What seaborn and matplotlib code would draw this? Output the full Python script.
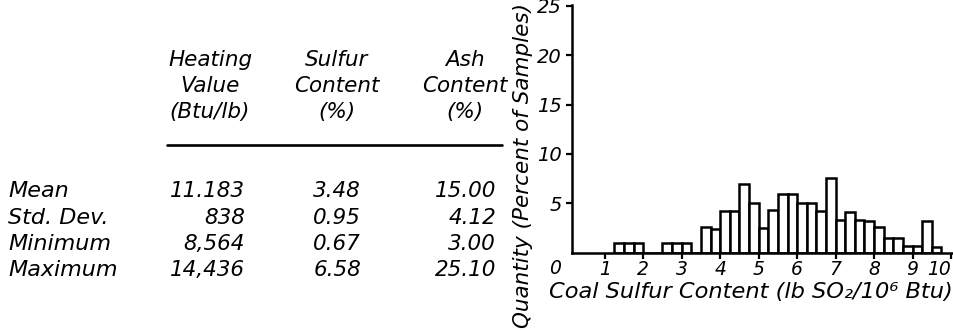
import numpy as np
import pandas as pd
import matplotlib
matplotlib.use("Agg")
import matplotlib.pyplot as plt
from matplotlib.lines import Line2D
import seaborn as sns

# Summary statistics of the coal samples
stat_names = ["Mean", "Std. Dev.", "Minimum", "Maximum"]
heating_value = ["11.183", "838", "8,564", "14,436"]
sulfur_content = ["3.48", "0.95", "0.67", "6.58"]
ash_content = ["15.00", "4.12", "3.00", "25.10"]
heating_head = ["Heating", "Value", "(Btu/lb)"]
sulfur_head = ["Sulfur", "Content", "(%)"]
ash_head = ["Ash", "Content", "(%)"]

# Sulfur distribution: left edge of each 0.25-wide bin and its share of samples (%)
bin_left = [1.25, 1.50, 1.75,
            2.50, 2.75, 3.00,
            3.50, 3.75,
            4.00, 4.25, 4.50, 4.75,
            5.00, 5.25, 5.50, 5.75,
            6.00, 6.25, 6.50, 6.75,
            7.00, 7.25, 7.50, 7.75,
            8.00, 8.25, 8.50, 8.75,
            9.00, 9.25, 9.50]
percent = [1.0, 1.0, 1.0,
           1.0, 1.0, 1.0,
           2.6, 2.4,
           4.25, 4.25, 6.95, 5.0,
           2.5, 4.3, 5.9, 5.9,
           5.0, 5.0, 4.25, 7.6,
           3.3, 4.15, 3.3, 3.2,
           2.55, 1.5, 1.5, 0.7,
           0.7, 3.2, 0.6]
bin_width = 0.25
x_ticks = [1, 2, 3, 4, 5, 6, 7, 8, 9, 10]
y_ticks = [5, 10, 15, 20, 25]

sns.set_style("ticks")
plt.rcParams["font.family"] = ["DejaVu Sans"]
plt.rcParams["font.style"] = "italic"
plt.rcParams["text.color"] = "black"

W, H = 954, 332
fig = plt.figure(figsize=(W / 100, H / 100), dpi=100)
fig.patch.set_facecolor("white")


def fx(px):
    return px / W


def fy(py):
    return 1 - py / H


# ---- statistics table -------------------------------------------------
tsize = 15.5
head_x = [210, 337, 465]
head_base = [66.5, 92, 118]
for cx, head in zip(head_x, [heating_head, sulfur_head, ash_head]):
    for by, line in zip(head_base, head):
        fig.text(fx(cx), fy(by), line, ha="center", va="baseline", fontsize=tsize)

fig.add_artist(Line2D([fx(167), fx(502)], [fy(145), fy(145)],
                      color="black", lw=1.9, transform=fig.transFigure))

row_base = [197, 223.5, 250, 276.5]
for by, name, hv, sc, ac in zip(row_base, stat_names, heating_value,
                                sulfur_content, ash_content):
    fig.text(fx(8), fy(by), name, ha="left", va="baseline", fontsize=16)
    fig.text(fx(245), fy(by), hv, ha="right", va="baseline", fontsize=tsize)
    fig.text(fx(361), fy(by), sc, ha="right", va="baseline", fontsize=tsize)
    fig.text(fx(496), fy(by), ac, ha="right", va="baseline", fontsize=tsize)

# ---- histogram --------------------------------------------------------
ax = fig.add_axes([fx(572), fy(252.5), fx(953) - fx(572), fy(5) - fy(252.5)])
df = pd.DataFrame({"sulfur": np.array(bin_left) + bin_width / 2,
                   "percent": percent})
sns.histplot(data=df, x="sulfur", weights="percent", ax=ax,
             binwidth=bin_width,
             binrange=(min(bin_left), max(bin_left) + bin_width),
             stat="count", element="bars", fill=True, color="white",
             edgecolor="black", linewidth=1.8, alpha=1, shrink=1)

ax.set_xlim(0.15, 10.05)
ax.set_ylim(0, 25.1)
ax.set_xticks(x_ticks)
ax.set_xticklabels([str(t) for t in x_ticks])
ax.set_yticks(y_ticks)
ax.set_yticklabels([str(t) for t in y_ticks], fontsize=14)
ax.set_xlabel("")
ax.set_ylabel("")
sns.despine(ax=ax)
for side in ("left", "bottom"):
    ax.spines[side].set_linewidth(1.8)
    ax.spines[side].set_color("black")
ax.tick_params(axis="both", direction="out", length=4.5, width=1.6,
               colors="black", pad=3)
ax.tick_params(axis="x", labelsize=13.5, pad=1)
ax.get_xticklabels()[-1].set_horizontalalignment("right")
ax.set_facecolor("white")

fig.text(fx(555), fy(268), "0", ha="center", va="center", fontsize=13.5)
fig.text(fx(751), fy(292), "Coal Sulfur Content (lb SO\u2082/10\u2076 Btu)",
         ha="center", va="center", fontsize=16.2)
fig.text(fx(523), fy(165), "Quantity (Percent of Samples)", rotation=90,
         ha="center", va="center", fontsize=15.5)

fig.savefig("out.png", dpi=100, facecolor="white")
